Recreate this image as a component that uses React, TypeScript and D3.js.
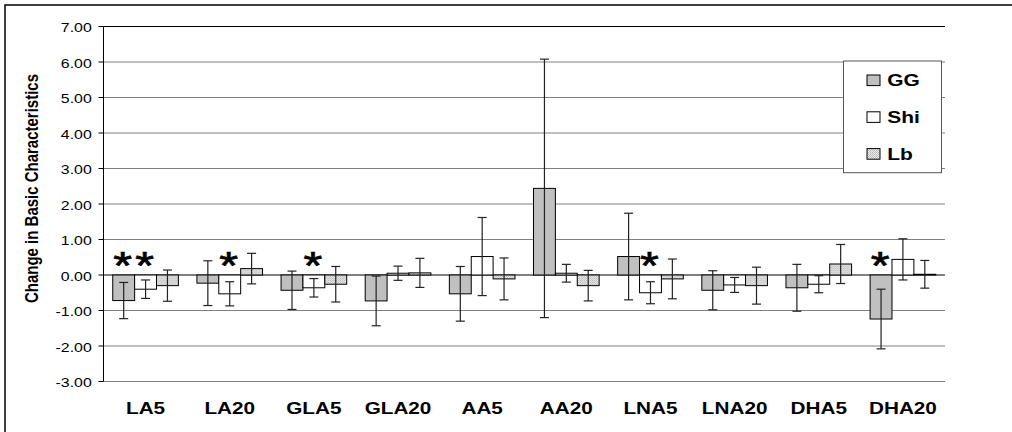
import React from "react";
import * as d3 from "d3";

const categories = ["LA5", "LA20", "GLA5", "GLA20", "AA5", "AA20", "LNA5", "LNA20", "DHA5", "DHA20"];
const seriesNames = ["GG", "Shi", "Lb"];
const ggValues = [-0.72, -0.23, -0.43, -0.73, -0.53, 2.44, 0.52, -0.43, -0.36, -1.24];
const ggErrors = [0.51, 0.63, 0.54, 0.7, 0.77, 3.64, 1.22, 0.55, 0.66, 0.84];
const shiValues = [-0.4, -0.53, -0.36, 0.05, 0.52, 0.05, -0.5, -0.28, -0.26, 0.44];
const shiErrors = [0.26, 0.34, 0.26, 0.2, 1.1, 0.25, 0.31, 0.21, 0.24, 0.58];
const lbValues = [-0.3, 0.18, -0.26, 0.06, -0.11, -0.3, -0.11, -0.3, 0.31, 0.02];
const lbErrors = [0.44, 0.43, 0.5, 0.41, 0.59, 0.43, 0.56, 0.52, 0.55, 0.39];
// significance markers (category, series)
const ggSignificant = [true, false, false, false, false, false, false, false, false, true];
const shiSignificant = [true, true, true, false, false, false, true, false, false, false];
const lbSignificant = [false, false, false, false, false, false, false, false, false, false];
const yTicks = [-3, -2, -1, 0, 1, 2, 3, 4, 5, 6, 7];
const yTitle = "Change in Basic Characteristics";

const W = 1012;
const H = 432;
const FONT = "'Liberation Sans', Arial, sans-serif";
const SX = 1.27;

export default function App() {
  const left = 103.5;
  const right = 945;
  const top = 26.5;
  const bottom = 381.5;

  const y = d3.scaleLinear().domain([-3, 7]).range([bottom, top]);
  const x0 = d3.scaleBand<string>().domain(categories).range([left, right]).padding(0);
  const bw = x0.bandwidth();
  const gap = bw * 0.22;
  const x1 = d3.scaleBand<string>().domain(seriesNames).range([gap / 2, bw - gap / 2]).padding(0);
  const barW = x1.bandwidth();

  const fmt = d3.formatLocale({ decimal: ".", thousands: ",", grouping: [3], currency: ["", ""], minus: "-" }).format(".2f");

  const series = [
    { name: "GG", values: ggValues, errors: ggErrors, sig: ggSignificant, fill: "#c0c0c0" },
    { name: "Shi", values: shiValues, errors: shiErrors, sig: shiSignificant, fill: "#ffffff" },
    { name: "Lb", values: lbValues, errors: lbErrors, sig: lbSignificant, fill: "url(#dots)" },
  ];

  const capHalf = 4.5;

  return (
    <svg width={W} height={H} style={{ position: "absolute", left: 0, top: 0, background: "#fff" }} fontFamily={FONT}>
      <defs>
        <pattern id="dots" width="2" height="2" patternUnits="userSpaceOnUse">
          <rect width="2" height="2" fill="#ececec" />
          <rect x="0" y="0" width="1" height="1" fill="#b4b4b4" />
          <rect x="1" y="1" width="1" height="1" fill="#c4c4c4" />
        </pattern>
      </defs>
      <rect x={0} y={0} width={W} height={H} fill="#fff" />
      <rect x={5} y={5} width={W + 20} height={H + 20} fill="none" stroke="#000" strokeWidth={1.5} />

      {/* gridlines */}
      {yTicks.map((t) => (
        <line key={"g" + t} x1={left} x2={right} y1={y(t)} y2={y(t)} stroke={t === 0 || t === 7 ? "#000" : "#808080"} strokeWidth={1} />
      ))}

      {/* bars */}
      {categories.map((c, i) => (
        <g key={c} transform={`translate(${x0(c)},0)`}>
          {series.map((s) => {
            const v = s.values[i];
            const yTop = y(Math.max(0, v));
            const yBot = y(Math.min(0, v));
            return (
              <rect key={s.name} x={x1(s.name)} y={yTop} width={barW} height={Math.max(0.5, yBot - yTop)} fill={s.fill} stroke="#000" strokeWidth={1} />
            );
          })}
          {series.map((s) => {
            const v = s.values[i];
            const e = s.errors[i];
            const cx = (x1(s.name) as number) + barW / 2;
            return (
              <g key={"e" + s.name} stroke="#222" strokeWidth={1.2}>
                <line x1={cx} x2={cx} y1={y(v + e)} y2={y(v - e)} />
                <line x1={cx - capHalf} x2={cx + capHalf} y1={y(v + e)} y2={y(v + e)} />
                <line x1={cx - capHalf} x2={cx + capHalf} y1={y(v - e)} y2={y(v - e)} />
              </g>
            );
          })}
          {series.map((s) =>
            s.sig[i] ? (
              <text
                key={"s" + s.name}
                transform={`translate(${(x1(s.name) as number) + barW / 2 - 1},${y(0) + 4}) scale(${SX},1)`}
                textAnchor="middle"
                fontSize={38}
                fill="#000"
                stroke="#000"
                strokeWidth={0.7}
              >
                *
              </text>
            ) : null
          )}
        </g>
      ))}

      {/* y axis */}
      <line x1={left} x2={left} y1={top} y2={bottom} stroke="#000" strokeWidth={1} />
      {yTicks.map((t) => (
        <g key={"t" + t}>
          <line x1={left - 5} x2={left} y1={y(t)} y2={y(t)} stroke="#000" strokeWidth={1} />
          <text transform={`translate(${91.7},${y(t) + 5.5}) scale(${SX},1)`} textAnchor="end" fontSize={12.5} fill="#000">
            {fmt(t)}
          </text>
        </g>
      ))}
      <g transform={`translate(37.5,188.5) scale(${SX},1) rotate(-90)`}>
        <text textAnchor="middle" fontSize={15} fontWeight="bold" fill="#000">
          {yTitle}
        </text>
      </g>

      {/* category labels */}
      {categories.map((c) => (
        <text key={"c" + c} transform={`translate(${(x0(c) as number) + bw / 2},414) scale(${SX},1)`} textAnchor="middle" fontSize={16.3} fontWeight="bold" fill="#000">
          {c}
        </text>
      ))}

      {/* legend */}
      <rect x={843.5} y={61} width={98} height={111.7} fill="#fff" stroke="#555" strokeWidth={1} />
      {series.map((s, k) => {
        const cy = 80.3 + k * 36.8;
        return (
          <g key={"l" + s.name}>
            <rect x={867} y={cy - 5.3} width={13} height={10.6} fill={s.fill} stroke="#000" strokeWidth={1} />
            <text transform={`translate(887.3,${cy + 6}) scale(${SX},1)`} fontSize={16.5} fontWeight="bold" fill="#000">
              {s.name}
            </text>
          </g>
        );
      })}
    </svg>
  );
}
